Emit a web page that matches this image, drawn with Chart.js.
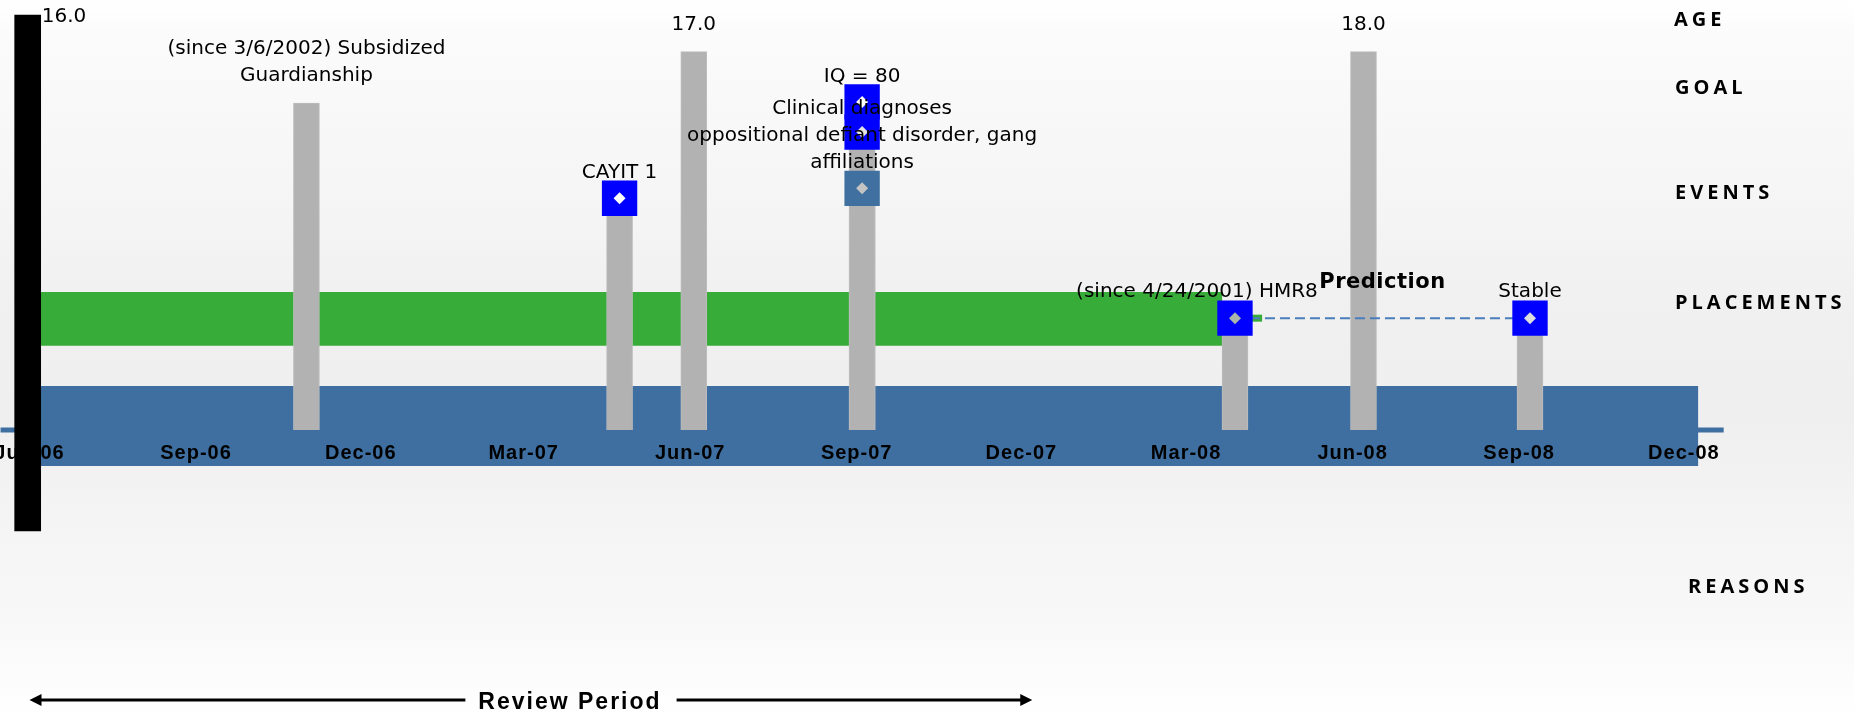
<!DOCTYPE html>
<html>
<head>
<meta charset="utf-8">
<title>Placement timeline</title>
<script src="https://cdn.jsdelivr.net/npm/chart.js"></script>
<style>
  html, body { margin: 0; padding: 0; overflow: hidden; }
  body {
    background: linear-gradient(to bottom, #ffffff 0%, #fbfbfb 5%, #f6f6f6 25%, #f0f0f0 44%, #efefef 58%, #f4f4f4 72%, #f8f8f8 86%, #ffffff 100%);
  }
  #wrap { position: relative; width: 1854px; height: 718px; }
</style>
</head>
<body>
<div id="wrap"><canvas id="timeline"></canvas></div>
<script>
// x axis ticks (quarters)
const tickDates = ['2006-06-01', '2006-09-01', '2006-12-01', '2007-03-01', '2007-06-01', '2007-09-01',
                   '2007-12-01', '2008-03-01', '2008-06-01', '2008-09-01', '2008-12-01'];
const tickLabels = ['Jun-06', 'Sep-06', 'Dec-06', 'Mar-07', 'Jun-07', 'Sep-07',
                    'Dec-07', 'Mar-08', 'Jun-08', 'Sep-08', 'Dec-08'];

// row names on the right
const rowNames = ['AGE', 'GOAL', 'EVENTS', 'PLACEMENTS', 'REASONS'];
const rowLevels = [9.53, 7.95, 5.51, 2.95, -3.65];

// age
const ageDates = ['2006-05-31', '2007-06-03', '2008-06-07'];
const ageLabels = ['16.0', '17.0', '18.0'];
const ageTops = [9.65, 8.8, 8.8];
const ageBottoms = [-2.35, 0, 0];

// goal
const goalDates = ['2006-11-01'];
const goalTops = [7.6];
const goalLabels = [['(since 3/6/2002) Subsidized', 'Guardianship']];

// events
const eventDates = ['2007-04-23', '2007-09-04', '2007-09-04', '2007-09-04'];
const eventLevels = [5.39, 7.63, 6.93, 5.62];
const eventLabels = [['CAYIT 1'], ['IQ = 80'],
  ['Clinical diagnoses', 'oppositional defiant disorder, gang', 'affiliations'], []];

// placements
const placementDates = ['2008-03-28', '2008-09-07'];
const placementLevels = [2.6, 2.6];
const placementLabels = [['(since 4/24/2001) HMR8'], ['Stable']];
const placementBandDates = ['2006-06-01', '2008-03-21'];
const placementBandRange = [1.96, 3.21];
const placementTailDates = ['2008-03-28', '2008-04-12'];

// prediction
const predictionDates = ['2008-03-28', '2008-09-07'];
const predictionLevel = 2.6;
const predictionText = 'Prediction';

// reasons band and time axis
const reasonBandDates = ['2006-06-01', '2008-12-09'];
const reasonBandRange = [-0.84, 1.02];
const axisDates = ['2006-05-16', '2008-12-23'];

// review period arrow
const reviewDates = ['2006-06-01', '2007-12-07'];
const reviewText = 'Review Period';

const DAY0 = Date.UTC(2006, 5, 1);
function day(s) {
    const [y, m, d] = s.split('-').map(Number);
    return (Date.UTC(y, m - 1, d) - DAY0) / 86400000;
}
const pts = (dates, vals) => dates.map((d, i) => ({ x: day(d), y: vals[i] }));
const flat = (dates, v) => dates.map(d => ({ x: day(d), y: v }));

const GRAY = '#b2b2b2';
const STEEL = '#3e6fa0';
const GREEN = '#38ac38';

const grayBars = []
    .concat(ageDates.slice(1).map((d, i) => ({ x: day(d), y: [ageBottoms[i + 1], ageTops[i + 1]] })))
    .concat(goalDates.map((d, i) => ({ x: day(d), y: [0, goalTops[i]] })))
    .concat(eventDates.map((d, i) => ({ x: day(d), y: [0, eventLevels[i]] })))
    .concat(placementDates.map((d, i) => ({ x: day(d), y: [0, placementLevels[i]] })));

const markerPts = pts(eventDates, eventLevels).concat(pts(placementDates, placementLevels));

const datasets = [
    { // reasons band
        type: 'line', data: flat(reasonBandDates, reasonBandRange[1]),
        fill: { value: reasonBandRange[0] }, backgroundColor: STEEL,
        borderColor: 'rgba(0,0,0,0)', borderWidth: 1, pointRadius: 0, order: 9
    },
    { // placement band
        type: 'line', data: flat(placementBandDates, placementBandRange[1]),
        fill: { value: placementBandRange[0] }, backgroundColor: GREEN,
        borderColor: 'rgba(0,0,0,0)', borderWidth: 1, pointRadius: 0, order: 8
    },
    { // time axis line
        type: 'line', data: flat(axisDates, 0), borderColor: STEEL, borderWidth: 5,
        borderCapStyle: 'butt', pointRadius: 0, fill: false, order: 7
    },
    { // gray columns
        type: 'bar', data: grayBars, backgroundColor: GRAY, borderColor: '#bdbdbd', borderWidth: 1,
        barThickness: 26, grouped: false, order: 6
    },
    { // highlighted age column
        type: 'bar', data: [{ x: day(ageDates[0]), y: [ageBottoms[0], ageTops[0]] }],
        backgroundColor: '#000000', barThickness: 26, grouped: false, order: 5
    },
    { // placement tail
        type: 'line', data: flat(placementTailDates, predictionLevel), borderColor: GREEN, borderWidth: 7,
        borderCapStyle: 'butt', pointRadius: 0, fill: false, order: 4
    },
    { // prediction line
        type: 'line', data: flat(predictionDates, predictionLevel), borderColor: '#4a7ebb', borderWidth: 2,
        borderDash: [10, 5], pointRadius: 0, fill: false, order: 3
    },
    { // event markers
        type: 'line', data: markerPts, showLine: false, pointStyle: 'rect', pointRadius: 25,
        pointBackgroundColor: ['#0000ff', '#0000ff', '#0000ff', '#4070a0', '#0000ff', '#0000ff'],
        pointBorderWidth: 0, order: 2
    },
    { // small diamonds
        type: 'line', data: markerPts, showLine: false, pointStyle: 'rectRot', pointRadius: 6,
        pointBackgroundColor: ['#ffffff', '#ffffff', '#e4e4e4', '#c4c4c4', '#a9b6a9', '#dcdcdc'],
        pointBorderWidth: 0, order: 1
    }
];
const AXIS_INDEX = 2;

function drawText(ctx, str, x, y, font, align, spacing) {
    ctx.save();
    ctx.font = font;
    ctx.textAlign = align;
    ctx.textBaseline = 'middle';
    ctx.letterSpacing = spacing || '0px';
    ctx.fillStyle = '#000000';
    ctx.fillText(str, x, y);
    ctx.restore();
}

const LABEL_FONT = '20px "DejaVu Sans"';
const LINE_H = 27;

function drawAbove(ctx, lines, x, y, gap) {
    lines.forEach((ln, i) => {
        drawText(ctx, ln, x, y - gap - (lines.length - 1 - i) * LINE_H, LABEL_FONT, 'center');
    });
}
function drawCentered(ctx, lines, x, y) {
    lines.forEach((ln, i) => {
        drawText(ctx, ln, x, y + 3.5 + (i - (lines.length - 1) / 2) * LINE_H, LABEL_FONT, 'center');
    });
}

const timelineText = {
    id: 'timelineText',
    afterDatasetDraw(chart, args) {
        if (args.index !== AXIS_INDEX) return;
        const { ctx, scales: { x, y } } = chart;
        tickDates.forEach((d, i) => {
            drawText(ctx, tickLabels[i], x.getPixelForValue(day(d)), y.getPixelForValue(-0.54),
                'bold 20px "Liberation Sans"', 'center', '1px');
        });
    },
    afterDatasetsDraw(chart) {
        const { ctx, scales: { x, y } } = chart;

        // ages
        ageDates.forEach((d, i) => {
            const px = x.getPixelForValue(day(d));
            const py = y.getPixelForValue(ageTops[i]);
            if (i === 0) {
                drawText(ctx, ageLabels[i], px + 14, Math.max(py + 2, 17), LABEL_FONT, 'left');
            } else {
                drawText(ctx, ageLabels[i], px, py - 27, LABEL_FONT, 'center');
            }
        });

        // goal
        goalDates.forEach((d, i) => {
            drawAbove(ctx, goalLabels[i], x.getPixelForValue(day(d)), y.getPixelForValue(goalTops[i]), 27);
        });

        // events
        const eventPlace = ['above', 'above', 'center', 'above'];
        eventDates.forEach((d, i) => {
            const px = x.getPixelForValue(day(d));
            const py = y.getPixelForValue(eventLevels[i]);
            if (eventPlace[i] === 'center') drawCentered(ctx, eventLabels[i], px, py);
            else drawAbove(ctx, eventLabels[i], px, py, 25);
        });

        // placements
        const shift = [-38, 0];
        placementDates.forEach((d, i) => {
            drawAbove(ctx, placementLabels[i], x.getPixelForValue(day(d)) + shift[i],
                y.getPixelForValue(placementLevels[i]), 26.5);
        });

        // prediction label
        const pMid = (day(predictionDates[0]) + day(predictionDates[1])) / 2;
        drawText(ctx, predictionText, x.getPixelForValue(pMid), y.getPixelForValue(predictionLevel) - 36,
            'bold 21px "DejaVu Sans"', 'center', '0.5px');

        // row names
        const indent = [0, 1, 1, 1, 14];
        rowNames.forEach((r, i) => {
            drawText(ctx, r, chart.chartArea.right - 180 + indent[i], y.getPixelForValue(rowLevels[i]),
                'bold 20px "Open Sans"', 'left', '4px');
        });

        // review period arrow
        const x0 = x.getPixelForValue(day(reviewDates[0]));
        const x1 = x.getPixelForValue(day(reviewDates[1]));
        const ay = y.getPixelForValue(-6.28);
        const tx = x0 + 0.538 * (x1 - x0);
        const reviewFont = 'bold 23px "Liberation Sans"';
        ctx.save();
        ctx.font = reviewFont;
        ctx.letterSpacing = '2px';
        const tw = ctx.measureText(reviewText).width;
        ctx.restore();
        drawText(ctx, reviewText, tx + 1, ay + 2.5, reviewFont, 'center', '2px');
        ctx.save();
        ctx.strokeStyle = '#000';
        ctx.fillStyle = '#000';
        ctx.lineWidth = 3;
        ctx.beginPath();
        ctx.moveTo(x0 + 8, ay);
        ctx.lineTo(tx - tw / 2 - 12, ay);
        ctx.moveTo(tx + tw / 2 + 16, ay);
        ctx.lineTo(x1 - 8, ay);
        ctx.stroke();
        ctx.beginPath();
        ctx.moveTo(x0, ay); ctx.lineTo(x0 + 12, ay - 6); ctx.lineTo(x0 + 12, ay + 6); ctx.closePath();
        ctx.moveTo(x1, ay); ctx.lineTo(x1 - 12, ay - 6); ctx.lineTo(x1 - 12, ay + 6); ctx.closePath();
        ctx.fill();
        ctx.restore();
    }
};

new Chart(document.getElementById('timeline'), {
    type: 'line',
    data: { datasets },
    plugins: [timelineText],
    options: {
        responsive: true,
        maintainAspectRatio: false,
        animation: false,
        layout: { padding: 0, autoPadding: false },
        plugins: { legend: { display: false }, tooltip: { enabled: false }, title: { display: false } },
        scales: {
            x: { type: 'linear', min: -16.3, max: 1008, offset: false, display: false },
            y: { type: 'linear', min: -6.7, max: 10, display: false }
        }
    }
});
</script>
</body>
</html>
